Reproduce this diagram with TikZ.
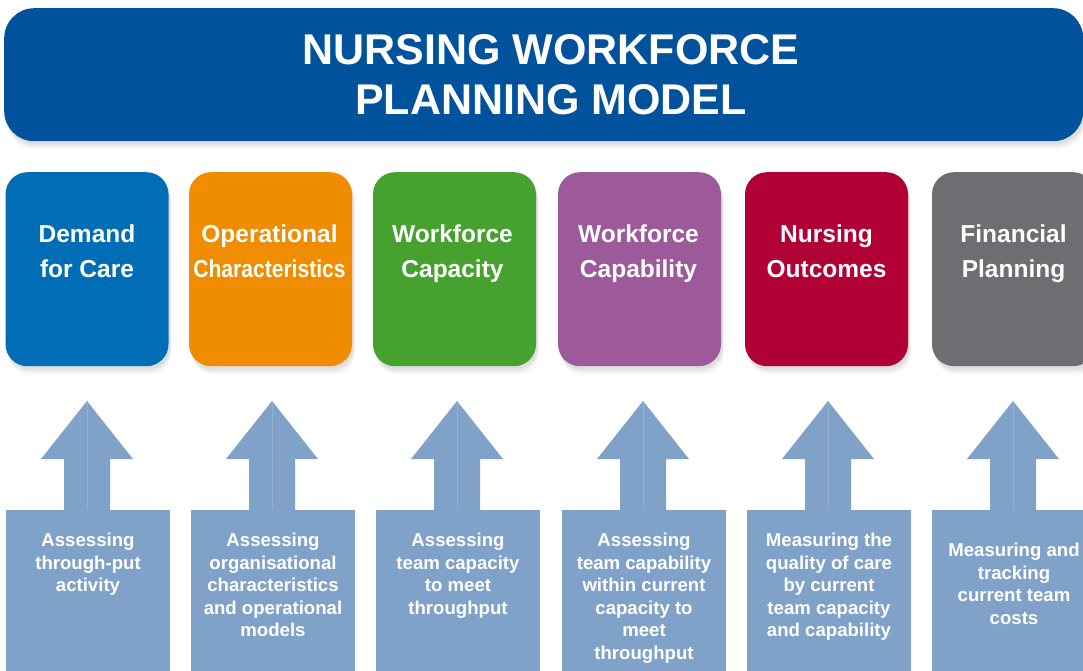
\documentclass[tikz,border=0pt]{standalone}
\usepackage{fontspec}
\setmainfont{Liberation Sans}
\usepackage{graphicx}
\usetikzlibrary{shadows,calc}
\definecolor{titleblue}{HTML}{00529C}
\definecolor{cblue}{HTML}{006EB7}
\definecolor{corange}{HTML}{F08C00}
\definecolor{cgreen}{HTML}{46A12F}
\definecolor{cpurple}{HTML}{9D5A9B}
\definecolor{ccrimson}{HTML}{B10035}
\definecolor{cgray}{HTML}{6D6E71}
\definecolor{arrowblue}{HTML}{80A1C8}
\definecolor{arrowline}{HTML}{93B0D3}
\begin{document}
\begin{tikzpicture}[x=1pt,y=-1pt,
  softshadow/.style={
    general shadow={fill=black,opacity=.05,shadow xshift=1.5pt,shadow yshift=-3pt},
    general shadow={fill=black,opacity=.04,shadow xshift=2pt,shadow yshift=-5pt},
    general shadow={fill=black,opacity=.03,shadow xshift=2.5pt,shadow yshift=-7pt},
    general shadow={fill=black,opacity=.02,shadow xshift=3pt,shadow yshift=-9pt}},
  titlebox/.style={rectangle,rounded corners=30pt,fill=titleblue,softshadow,
    minimum width=1079pt,minimum height=133pt,inner sep=0pt,anchor=north west},
  titletext/.style={text=white,align=center,inner sep=0pt,anchor=north,
    font=\fontsize{43}{50}\selectfont\bfseries},
  topbox/.style={rectangle,rounded corners=22pt,fill=#1,softshadow,
    minimum width=163pt,minimum height=194pt,inner sep=0pt,anchor=north},
  toptext/.style={text=white,align=center,inner sep=0pt,anchor=north,
    font=\fontsize{24.5}{35}\selectfont\bfseries},
  botbox/.style={rectangle,fill=arrowblue,minimum width=164pt,minimum height=200pt,
    inner sep=0pt,anchor=north},
  bottext/.style={text=white,align=center,inner sep=0pt,anchor=north,
    font=\fontsize{18.6}{22.5}\selectfont\bfseries},
  uparrow/.style={fill=arrowblue},
  midline/.style={draw=arrowline,line width=0.5pt}
]
\useasboundingbox (0,0) rectangle (1083,671);
\clip (0,0) rectangle (1083,671);

% title
\node[titlebox] (title) at (4,8) {};
\node[titletext] (titletxt) at (551,34) {NURSING WORKFORCE\\PLANNING MODEL};

% top boxes
\node[topbox=cblue]    (t1) at (87,172)    {};
\node[topbox=corange]  (t2) at (270.5,172) {};
\node[topbox=cgreen]   (t3) at (454.5,172) {};
\node[topbox=cpurple]  (t4) at (639.5,172) {};
\node[topbox=ccrimson] (t5) at (826.5,172) {};
\node[topbox=cgray]    (t6) at (1013.5,172) {};

\node[toptext] (tt1) at (87,224.5)    {Demand\\for Care};
\node[toptext] (tt2) at (269.5,224.5) {Operational\\\scalebox{0.86}[1]{Characteristics}};
\node[toptext] (tt3) at (452.5,224.5) {Workforce\\Capacity};
\node[toptext] (tt4) at (638.5,224.5) {Workforce\\Capability};
\node[toptext] (tt5) at (826.5,224.5) {Nursing\\Outcomes};
\node[toptext] (tt6) at (1013.5,224.5) {Financial\\Planning};

% bottom boxes
\node[botbox] (b1) at (88,510)  {};
\node[botbox] (b2) at (273,510) {};
\node[botbox] (b3) at (458,510) {};
\node[botbox] (b4) at (644,510) {};
\node[botbox] (b5) at (829,510) {};
\node[botbox] (b6) at (1014,510) {};

% arrows from bottom boxes towards top boxes
\foreach \n in {1,...,6}{
  \fill[uparrow] ([shift={(-24,0)}]b\n.north) -- ([shift={(-24,-51)}]b\n.north)
    -- ([shift={(-47,-51)}]b\n.north) -- ([shift={(-1,-109)}]b\n.north)
    -- ([shift={(45,-51)}]b\n.north) -- ([shift={(22,-51)}]b\n.north)
    -- ([shift={(22,0)}]b\n.north) -- cycle;
  \draw[midline] ([shift={(-1,0)}]b\n.north) -- ([shift={(-1,-109)}]b\n.north);
}

% bottom texts
\node[bottext] (bt1) at (88,533)  {Assessing\\through-put\\activity};
\node[bottext] (bt2) at (273,533) {Assessing\\organisational\\characteristics\\and operational\\models};
\node[bottext] (bt3) at (458,533) {Assessing\\team capacity\\to meet\\throughput};
\node[bottext] (bt4) at (644,533) {Assessing\\team capability\\within current\\capacity to\\meet\\throughput};
\node[bottext] (bt5) at (829,533) {Measuring the\\quality of care\\by current\\team capacity\\and capability};
\node[bottext] (bt6) at (1014,543) {Measuring and\\tracking\\current team\\costs};
\end{tikzpicture}
\end{document}
